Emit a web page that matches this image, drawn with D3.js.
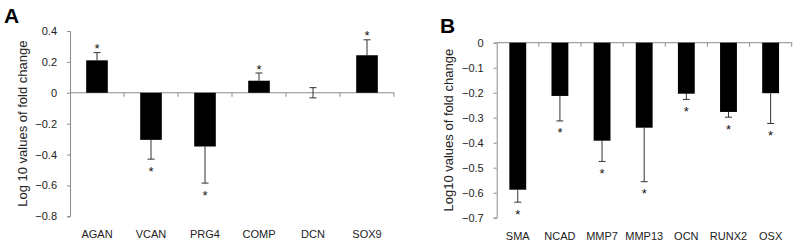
<!DOCTYPE html>
<html>
<head>
<meta charset="utf-8">
<script src="https://cdn.jsdelivr.net/npm/d3@7"></script>
<style>
  body { margin: 0; background: #fff; }
  svg { display: block; font-family: "Liberation Sans", Arial, sans-serif; }
</style>
</head>
<body>
<div id="chart"></div>
<script>
// Panel A data
const genesA = ["AGAN", "VCAN", "PRG4", "COMP", "DCN", "SOX9"];
const valuesA = [0.21, -0.305, -0.348, 0.078, 0, 0.243];
const errorsA = [0.05, 0.125, 0.237, 0.05, 0.033, 0.10];
const starsA = [true, true, true, true, false, true];
const ticksA = [0.4, 0.2, 0, -0.2, -0.4, -0.6, -0.8];

// Panel B data
const genesB = ["SMA", "NCAD", "MMP7", "MMP13", "OCN", "RUNX2", "OSX"];
const valuesB = [-0.588, -0.213, -0.392, -0.34, -0.204, -0.277, -0.202];
const errorsB = [0.05, 0.10, 0.083, 0.216, 0.023, 0.021, 0.121];
const starsB = [true, true, true, true, true, true, true];
const ticksB = [0, -0.1, -0.2, -0.3, -0.4, -0.5, -0.6, -0.7];

const svg = d3.select("#chart")
    .append("svg")
    .attr("width", 800)
    .attr("height", 246);

const axisColor = "#8c8c8c";

function drawPanel(opts) {
    const x = d3.scaleBand()
        .domain(opts.genes)
        .range([opts.left, opts.right])
        .paddingInner(0.6)
        .paddingOuter(0.3);

    const y = d3.scaleLinear()
        .domain(opts.domain)
        .range([opts.bottom, opts.top]);

    // y axis
    const yAxis = svg.append("g")
        .attr("transform", `translate(${opts.left},0)`)
        .call(d3.axisLeft(y)
            .tickValues(opts.ticks)
            .tickSize(3)
            .tickPadding(10)
            .tickFormat(d => d === 0 ? "0" : d3.format(".1f")(d)));
    yAxis.select(".domain").attr("stroke", axisColor);
    yAxis.selectAll(".tick line").attr("stroke", axisColor);
    yAxis.selectAll(".tick text")
        .attr("font-size", "11px")
        .attr("fill", "#222");

    // x axis line at zero with ticks at category boundaries
    const y0 = y(0);
    const step = x.step();
    svg.append("line")
        .attr("x1", opts.left).attr("x2", opts.right)
        .attr("y1", y0).attr("y2", y0)
        .attr("stroke", axisColor);
    svg.selectAll(null)
        .data(opts.genes)
        .enter().append("line")
        .attr("x1", (d, i) => opts.left + step * (i + 1))
        .attr("x2", (d, i) => opts.left + step * (i + 1))
        .attr("y1", y0).attr("y2", y0 + 4)
        .attr("stroke", axisColor);

    const bw = x.bandwidth();
    const cx = d => x(d) + bw / 2;

    // error bars
    const data = opts.genes.map((g, i) => ({
        g, v: opts.values[i], e: opts.errors[i], s: opts.stars[i]
    }));
    data.forEach(d => {
        const dir = d.v >= 0 ? 1 : -1;
        const endV = d.v === 0 ? d.e : d.v + dir * d.e;
        const startV = d.v === 0 ? -d.e : d.v;
        svg.append("line")
            .attr("x1", cx(d.g)).attr("x2", cx(d.g))
            .attr("y1", y(startV)).attr("y2", y(endV))
            .attr("stroke", "#333");
        [startV, endV].forEach((v, k) => {
            if (k === 0 && d.v !== 0) return;
            svg.append("line")
                .attr("x1", cx(d.g) - 3.5).attr("x2", cx(d.g) + 3.5)
                .attr("y1", y(v)).attr("y2", y(v))
                .attr("stroke", "#333");
        });
    });

    // bars
    svg.selectAll(null)
        .data(data.filter(d => d.v !== 0))
        .enter().append("rect")
        .attr("x", d => x(d.g))
        .attr("width", bw)
        .attr("y", d => y(Math.max(0, d.v)))
        .attr("height", d => Math.abs(y(d.v) - y(0)))
        .attr("fill", "#000");

    // asterisks
    svg.selectAll(null)
        .data(data.filter(d => d.s))
        .enter().append("text")
        .attr("x", d => cx(d.g))
        .attr("y", d => d.v >= 0 ? y(d.v + d.e) + 0.5 : y(d.v - d.e) + 16.5)
        .attr("text-anchor", "middle")
        .attr("font-size", "13px")
        .attr("fill", "#111")
        .text("*");

    // category labels
    svg.selectAll(null)
        .data(opts.genes)
        .enter().append("text")
        .attr("x", d => cx(d))
        .attr("y", opts.labelY)
        .attr("text-anchor", "middle")
        .attr("font-size", "11px")
        .attr("fill", "#222")
        .text(d => d);

    // y title
    svg.append("text")
        .attr("transform", `translate(${opts.titleX},${(opts.top + opts.bottom) / 2}) rotate(-90)`)
        .attr("text-anchor", "middle")
        .attr("font-size", "13px")
        .attr("fill", "#222")
        .text(opts.title);

    // panel letter
    svg.append("text")
        .attr("x", opts.letterX)
        .attr("y", opts.letterY)
        .attr("font-size", "21px")
        .attr("font-weight", "bold")
        .attr("fill", "#000")
        .text(opts.letter);
}

drawPanel({
    genes: genesA, values: valuesA, errors: errorsA, stars: starsA, ticks: ticksA,
    domain: [-0.8, 0.4], left: 70, right: 394, top: 31, bottom: 216.3,
    labelY: 237.5, title: "Log 10 values of fold change", titleX: 27,
    letter: "A", letterX: 4, letterY: 23
});

drawPanel({
    genes: genesB, values: valuesB, errors: errorsB, stars: starsB, ticks: ticksB,
    domain: [-0.7, 0], left: 496.7, right: 791.7, top: 42.7, bottom: 217.7,
    labelY: 239.5, title: "Log10 values of fold change", titleX: 453,
    letter: "B", letterX: 440, letterY: 33
});
</script>
</body>
</html>
